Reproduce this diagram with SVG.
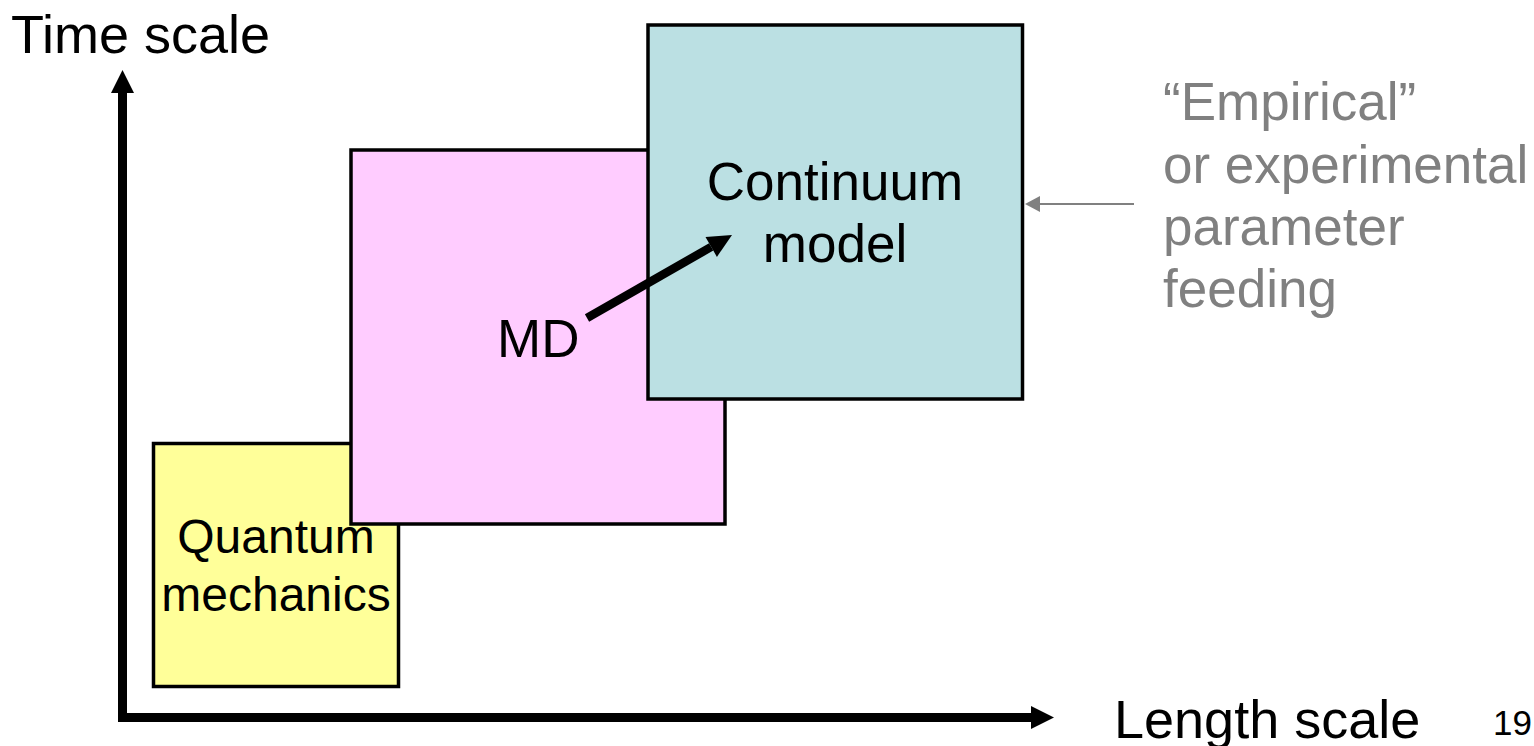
<svg xmlns="http://www.w3.org/2000/svg" width="1534" height="746" viewBox="0 0 1534 746">
<style>
text{font-family:"Liberation Sans",Arial,sans-serif;fill:#000}
.big{font-size:53px}
.axis{font-size:54px}
.mid{font-size:48px}
.gray{fill:#808080}
.box{stroke:#000;stroke-width:3.5}
</style>
<defs>
<marker id="bigHead" markerUnits="userSpaceOnUse" markerWidth="24" markerHeight="24" refX="0" refY="11.5" orient="auto-start-reverse" overflow="visible">
<path d="M0,0 L23,11.5 L0,23 Z" fill="#000"/>
</marker>
<marker id="mdHead" markerUnits="userSpaceOnUse" markerWidth="25" markerHeight="24" refX="0" refY="11.5" orient="auto" overflow="visible">
<path d="M0,0 L24,11.5 L0,23 Z" fill="#000"/>
</marker>
<marker id="grayHead" markerUnits="userSpaceOnUse" markerWidth="16" markerHeight="16" refX="0" refY="8" orient="auto" overflow="visible">
<path d="M0,0 L15,8 L0,16 Z" fill="#808080"/>
</marker>
</defs>
<rect width="1534" height="746" fill="#fff"/>
<g id="axes">
<path d="M122.5,93 L122.5,717.5 L1031,717.5" fill="none" stroke="#000" stroke-width="9" stroke-linejoin="miter" marker-start="url(#bigHead)" marker-end="url(#bigHead)"/>
<text class="axis" x="11" y="53">Time scale</text>
<text class="axis" x="1114" y="738">Length scale</text>
</g>
<g id="quantum">
<rect class="box" x="153.5" y="443.5" width="245" height="243" fill="#FFFF99"/>
<text class="mid" x="276" y="553" text-anchor="middle">Quantum</text>
<text class="mid" x="276" y="611" text-anchor="middle">mechanics</text>
</g>
<g id="md">
<rect class="box" x="351" y="150" width="374" height="374" fill="#FFCCFF"/>
<text class="big" x="497" y="357">MD</text>
</g>
<g id="continuum">
<rect class="box" x="648" y="25" width="374.5" height="374" fill="#BBE0E3"/>
<text class="big" x="835" y="200" text-anchor="middle">Continuum</text>
<text class="big" x="835" y="262" text-anchor="middle">model</text>
</g>
<g id="empirical">
<text class="big gray" x="1163" y="120">“Empirical”</text>
<text class="big gray" x="1163" y="183">or experimental</text>
<text class="big gray" x="1163" y="245">parameter</text>
<text class="big gray" x="1163" y="307">feeding</text>
</g>
<g id="connectors">
<line x1="587" y1="318" x2="711.2" y2="246.9" stroke="#000" stroke-width="8.5" marker-end="url(#mdHead)"/>
<line x1="1134" y1="204" x2="1040" y2="204" stroke="#808080" stroke-width="2" marker-end="url(#grayHead)"/>
</g>
<text id="page" x="1532" y="735" text-anchor="end" style="font-size:35px">19</text>
</svg>
